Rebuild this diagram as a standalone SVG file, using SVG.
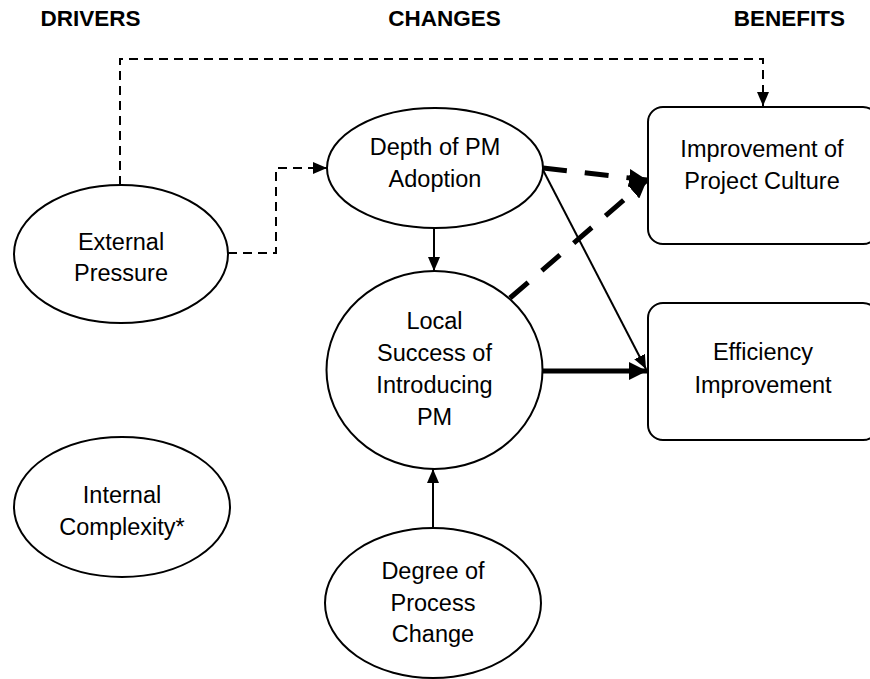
<svg xmlns="http://www.w3.org/2000/svg" width="870" height="679" viewBox="0 0 870 679">
<defs>
<style>
.hdr{font-family:"Liberation Sans",Arial,sans-serif;font-weight:bold;font-size:22.5px;fill:#000;text-anchor:middle}
.lbl{font-family:"Liberation Sans",Arial,sans-serif;font-size:23.5px;fill:#000;text-anchor:middle}
.shape{fill:#fff;stroke:#000;stroke-width:2}
.thin{fill:none;stroke:#000;stroke-width:2}
.dash{stroke-dasharray:9,6}
.thick{fill:none;stroke:#000;stroke-width:5}
.tdash{stroke-dasharray:24,18}
</style>
<marker id="arr" markerUnits="userSpaceOnUse" markerWidth="14" markerHeight="12" refX="14" refY="6" orient="auto">
<path d="M0,0 L14,6 L0,12 z" fill="#000"/>
</marker>
<marker id="arrB" markerUnits="userSpaceOnUse" markerWidth="18" markerHeight="18" refX="18" refY="9" orient="auto">
<path d="M0,0 L18,9 L0,18 z" fill="#000"/>
</marker>
</defs>
<rect width="870" height="679" fill="#fff"/>
<g id="headers">
<text class="hdr" x="90.5" y="26">DRIVERS</text>
<text class="hdr" x="444.5" y="26">CHANGES</text>
<text class="hdr" x="789.5" y="26">BENEFITS</text>
</g>
<g id="connectors">
<path class="thin dash" d="M120,185 V59 H763 V106" marker-end="url(#arr)"/>
<path class="thin dash" d="M228,253 H276 V168 H327" marker-end="url(#arr)"/>
<path class="thin" d="M434,228 V271" marker-end="url(#arr)"/>
<path class="thin" d="M433,528 V469" marker-end="url(#arr)"/>
<path class="thick tdash" d="M543,168 L647,180" marker-end="url(#arrB)"/>
<path class="thick tdash" d="M510,298 L647,180" marker-end="url(#arrB)"/>
<path class="thin" d="M543,170 L646,369" marker-end="url(#arr)"/>
<path class="thick" d="M543,371 H647" marker-end="url(#arrB)"/>
</g>
<g id="external-pressure">
<ellipse class="shape" cx="121" cy="254" rx="107" ry="69"/>
<text class="lbl" x="121" y="250">External</text>
<text class="lbl" x="121" y="281">Pressure</text>
</g>
<g id="internal-complexity">
<ellipse class="shape" cx="122" cy="507" rx="108" ry="70"/>
<text class="lbl" x="122" y="503">Internal</text>
<text class="lbl" x="122" y="535">Complexity*</text>
</g>
<g id="depth-adoption">
<ellipse class="shape" cx="435" cy="168" rx="108" ry="60"/>
<text class="lbl" x="435" y="155">Depth of PM</text>
<text class="lbl" x="435" y="187">Adoption</text>
</g>
<g id="local-success">
<ellipse class="shape" cx="434.5" cy="370" rx="108" ry="99"/>
<text class="lbl" x="434.5" y="329">Local</text>
<text class="lbl" x="434.5" y="361">Success of</text>
<text class="lbl" x="434.5" y="393">Introducing</text>
<text class="lbl" x="434.5" y="425">PM</text>
</g>
<g id="degree-process-change">
<ellipse class="shape" cx="433" cy="603" rx="108" ry="75"/>
<text class="lbl" x="433" y="579">Degree of</text>
<text class="lbl" x="433" y="611">Process</text>
<text class="lbl" x="433" y="642">Change</text>
</g>
<g id="project-culture">
<rect class="shape" x="648" y="107" width="230" height="137" rx="15" ry="15"/>
<text class="lbl" x="762" y="157">Improvement of</text>
<text class="lbl" x="762" y="189">Project Culture</text>
</g>
<g id="efficiency">
<rect class="shape" x="648" y="303" width="230" height="137" rx="15" ry="15"/>
<text class="lbl" x="763" y="360">Efficiency</text>
<text class="lbl" x="763" y="393">Improvement</text>
</g>
</svg>
